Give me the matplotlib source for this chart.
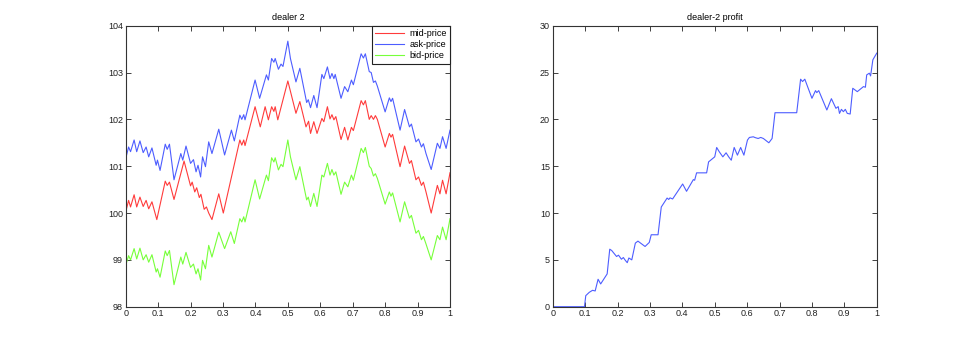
import matplotlib
matplotlib.use('Agg')
import matplotlib.pyplot as plt

plt.rcParams['font.family'] = ['Liberation Sans', 'DejaVu Sans']

# ask / mid / bid price paths for dealer 2
ask_x = [0.0, 0.009, 0.015, 0.026, 0.034, 0.044, 0.054, 0.063, 0.071, 0.081,
         0.094, 0.098, 0.106, 0.122, 0.128, 0.135, 0.149, 0.170, 0.176, 0.186,
         0.200, 0.209, 0.217, 0.223, 0.231, 0.237, 0.246, 0.256, 0.266, 0.287,
         0.305, 0.326, 0.335, 0.352, 0.358, 0.364, 0.368, 0.399, 0.413, 0.434,
         0.440, 0.450, 0.457, 0.461, 0.471, 0.479, 0.485, 0.500, 0.508, 0.525,
         0.537, 0.558, 0.563, 0.570, 0.580, 0.590, 0.605, 0.611, 0.622, 0.630,
         0.636, 0.642, 0.646, 0.664, 0.675, 0.685, 0.696, 0.702, 0.726, 0.733,
         0.739, 0.751, 0.757, 0.764, 0.770, 0.776, 0.800, 0.813, 0.818, 0.823,
         0.846, 0.860, 0.875, 0.881, 0.895, 0.903, 0.912, 0.918, 0.926, 0.942,
         0.961, 0.969, 0.977, 0.988, 1.000]
ask_y = [101.16, 101.41, 101.31, 101.56, 101.31, 101.54, 101.29, 101.41, 101.20, 101.39,
         101.02, 101.13, 100.91, 101.47, 101.36, 101.47, 100.71, 101.27, 101.13, 101.43,
         101.06, 101.14, 100.88, 101.02, 100.77, 101.20, 100.99, 101.52, 101.27, 101.79,
         101.24, 101.77, 101.54, 102.09, 102.00, 102.10, 101.99, 102.84, 102.45, 102.95,
         102.84, 103.30, 103.22, 103.30, 103.07, 103.18, 103.13, 103.67, 103.30, 102.80,
         103.09, 102.36, 102.42, 102.25, 102.51, 102.25, 102.96, 102.87, 103.12, 102.87,
         102.98, 102.87, 102.96, 102.45, 102.70, 102.59, 102.84, 102.74, 103.40, 103.31,
         103.40, 103.02, 103.00, 102.79, 102.82, 102.71, 102.16, 102.46, 102.38, 102.45,
         101.77, 102.21, 101.84, 101.90, 101.52, 101.58, 101.41, 101.48, 101.27, 100.93,
         101.49, 101.38, 101.63, 101.38, 101.77]

mid_x = [0.0, 0.009, 0.015, 0.026, 0.034, 0.044, 0.054, 0.063, 0.071, 0.081,
         0.096, 0.122, 0.128, 0.135, 0.149, 0.180, 0.200, 0.205, 0.213, 0.219,
         0.227, 0.232, 0.242, 0.249, 0.256, 0.266, 0.287, 0.301, 0.352, 0.358,
         0.364, 0.368, 0.399, 0.415, 0.430, 0.440, 0.450, 0.457, 0.461, 0.469,
         0.500, 0.525, 0.537, 0.556, 0.564, 0.570, 0.580, 0.590, 0.605, 0.611,
         0.622, 0.630, 0.636, 0.642, 0.648, 0.664, 0.675, 0.685, 0.696, 0.702,
         0.726, 0.733, 0.739, 0.751, 0.757, 0.764, 0.770, 0.776, 0.800, 0.813,
         0.818, 0.823, 0.846, 0.860, 0.875, 0.881, 0.895, 0.903, 0.912, 0.918,
         0.926, 0.942, 0.961, 0.969, 0.977, 0.988, 1.000]
mid_y = [100.02, 100.27, 100.13, 100.39, 100.13, 100.34, 100.14, 100.27, 100.09, 100.24,
         99.86, 100.68, 100.59, 100.66, 100.29, 101.11, 100.58, 100.66, 100.45, 100.54,
         100.33, 100.40, 100.08, 100.13, 100.00, 99.86, 100.41, 100.00, 101.56, 101.45,
         101.56, 101.44, 102.27, 101.84, 102.27, 101.99, 102.27, 102.17, 102.27, 101.99,
         102.82, 102.13, 102.38, 101.84, 101.96, 101.70, 101.95, 101.70, 102.02, 101.95,
         102.27, 102.01, 102.10, 101.99, 102.06, 101.57, 101.83, 101.56, 101.83, 101.76,
         102.40, 102.31, 102.40, 102.00, 102.08, 102.00, 102.08, 102.00, 101.41, 101.70,
         101.62, 101.68, 100.99, 101.43, 101.06, 101.12, 100.71, 100.77, 100.59, 100.66,
         100.45, 100.00, 100.59, 100.41, 100.70, 100.41, 100.86]

bid_x = [0.0, 0.009, 0.015, 0.026, 0.034, 0.044, 0.054, 0.063, 0.071, 0.081,
         0.094, 0.098, 0.106, 0.122, 0.128, 0.135, 0.149, 0.170, 0.176, 0.186,
         0.200, 0.209, 0.217, 0.223, 0.231, 0.237, 0.246, 0.256, 0.266, 0.287,
         0.305, 0.324, 0.335, 0.352, 0.358, 0.364, 0.368, 0.399, 0.413, 0.434,
         0.440, 0.450, 0.457, 0.461, 0.471, 0.479, 0.485, 0.500, 0.508, 0.525,
         0.537, 0.558, 0.563, 0.570, 0.580, 0.590, 0.605, 0.611, 0.622, 0.630,
         0.636, 0.642, 0.648, 0.664, 0.675, 0.685, 0.696, 0.702, 0.726, 0.733,
         0.739, 0.751, 0.757, 0.764, 0.770, 0.776, 0.800, 0.813, 0.818, 0.823,
         0.846, 0.860, 0.875, 0.881, 0.895, 0.903, 0.912, 0.918, 0.926, 0.942,
         0.961, 0.969, 0.977, 0.988, 1.000]
bid_y = [98.88, 99.09, 99.00, 99.24, 99.02, 99.25, 99.00, 99.11, 98.95, 99.11,
         98.74, 98.81, 98.63, 99.19, 99.09, 99.20, 98.47, 99.06, 98.91, 99.16,
         98.84, 98.91, 98.70, 98.81, 98.57, 98.99, 98.81, 99.31, 99.06, 99.59,
         99.24, 99.60, 99.35, 99.88, 99.81, 99.92, 99.81, 100.71, 100.30, 100.81,
         100.69, 101.18, 101.09, 101.18, 100.92, 101.04, 100.99, 101.56, 101.20, 100.71,
         100.99, 100.28, 100.34, 100.14, 100.42, 100.14, 100.81, 100.77, 101.06, 100.81,
         100.93, 100.81, 100.88, 100.40, 100.66, 100.56, 100.81, 100.70, 101.38, 101.29,
         101.40, 101.00, 100.95, 100.79, 100.84, 100.74, 100.19, 100.45, 100.36, 100.43,
         99.81, 100.24, 99.89, 99.95, 99.57, 99.63, 99.43, 99.50, 99.34, 99.00,
         99.52, 99.43, 99.70, 99.43, 99.88]

profit_x = [0.0, 0.098, 0.102, 0.113, 0.123, 0.131, 0.140, 0.148, 0.168, 0.176,
            0.182, 0.197, 0.203, 0.212, 0.218, 0.224, 0.230, 0.235, 0.244, 0.255,
            0.263, 0.285, 0.298, 0.304, 0.325, 0.335, 0.353, 0.358, 0.362, 0.370,
            0.401, 0.413, 0.434, 0.438, 0.444, 0.475, 0.481, 0.500, 0.506, 0.514,
            0.525, 0.535, 0.543, 0.551, 0.560, 0.570, 0.580, 0.590, 0.601, 0.607,
            0.619, 0.625, 0.634, 0.642, 0.650, 0.667, 0.677, 0.686, 0.753, 0.765,
            0.771, 0.778, 0.800, 0.811, 0.815, 0.821, 0.846, 0.860, 0.874, 0.881,
            0.885, 0.891, 0.897, 0.903, 0.909, 0.918, 0.926, 0.940, 0.959, 0.965,
            0.969, 0.977, 0.981, 0.988, 1.000]
profit_y = [0.0, 0.0, 1.18, 1.54, 1.75, 1.68, 2.93, 2.43, 3.50, 6.14,
            6.00, 5.36, 5.50, 5.07, 5.25, 4.95, 4.70, 5.20, 5.00, 6.79,
            7.00, 6.43, 6.86, 7.68, 7.68, 10.64, 11.60, 11.45, 11.62, 11.50,
            13.10, 12.32, 13.57, 13.50, 14.29, 14.29, 15.46, 16.00, 17.00, 16.54,
            16.00, 16.43, 16.00, 15.64, 17.00, 16.18, 17.00, 16.18, 17.79, 18.07,
            18.14, 18.05, 17.96, 18.07, 17.96, 17.50, 17.96, 20.71, 20.71, 24.29,
            24.04, 24.29, 22.25, 23.07, 22.86, 23.07, 21.00, 22.21, 21.18, 21.36,
            20.64, 21.07, 20.82, 21.07, 20.64, 20.57, 23.32, 22.96, 23.50, 23.43,
            24.75, 24.93, 24.64, 26.36, 27.07]

x_ticks = [0, 0.1, 0.2, 0.3, 0.4, 0.5, 0.6, 0.7, 0.8, 0.9, 1]
x_labels = ['0', '0.1', '0.2', '0.3', '0.4', '0.5', '0.6', '0.7', '0.8', '0.9', '1']
price_ticks = [98, 99, 100, 101, 102, 103, 104]
profit_ticks = [0, 5, 10, 15, 20, 25, 30]

fig = plt.figure(figsize=(9.69, 3.46), dpi=100)
ax1 = fig.add_axes([0.1297, 0.1136, 0.3347, 0.8121])
ax2 = fig.add_axes([0.5704, 0.1136, 0.3344, 0.8121])


def style_axes(ax):
    for s in ax.spines.values():
        s.set_color('#333333')
        s.set_linewidth(0.8)
    ax.tick_params(direction='in', length=3.5, width=0.6, top=True, right=True,
                   labelsize=6.5, pad=2, colors='#222222')
    ax.set_xticks(x_ticks)
    ax.set_xticklabels(x_labels)
    ax.set_xlim(0, 1)


ax1.plot(mid_x, mid_y, color='#ff3b3b', lw=0.8, label='mid-price')
ax1.plot(ask_x, ask_y, color='#4d5dff', lw=0.8, label='ask-price')
ax1.plot(bid_x, bid_y, color='#77ff3a', lw=0.8, label='bid-price')
style_axes(ax1)
ax1.set_ylim(98, 104)
ax1.set_yticks(price_ticks)
ax1.set_title('dealer 2', fontsize=6.5, pad=4)
leg = ax1.legend(loc='upper right', fontsize=6.5, borderaxespad=0, fancybox=False,
                 framealpha=1, handlelength=3.2, handletextpad=0.6,
                 labelspacing=0.25, borderpad=0.35)
leg.get_frame().set_edgecolor('#222222')
leg.get_frame().set_linewidth(0.8)

ax2.plot(profit_x, profit_y, color='#4d5dff', lw=0.8)
style_axes(ax2)
ax2.set_ylim(0, 30)
ax2.set_yticks(profit_ticks)
ax2.set_title('dealer-2 profit', fontsize=6.5, pad=4)

fig.savefig('out.png', dpi=100)
